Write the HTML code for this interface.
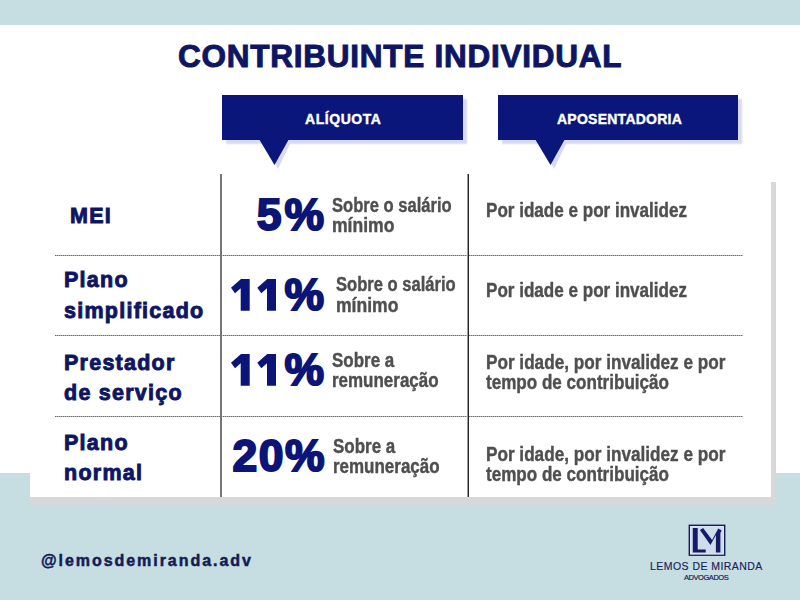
<!DOCTYPE html>
<html><head><meta charset="utf-8">
<style>
html,body{margin:0;padding:0;}
body{width:800px;height:600px;overflow:hidden;position:relative;background:#c6dde2;font-family:"Liberation Sans",sans-serif;}
.a{position:absolute;white-space:nowrap;line-height:1;}
#band{position:absolute;left:0;top:25px;width:800px;height:448px;background:#fff;}
#shR{position:absolute;left:771px;top:182px;width:5px;height:322px;background:#d8d8d8;filter:blur(0.4px);}
#shB{position:absolute;left:30px;top:497px;width:746px;height:10px;background:linear-gradient(#d8d8d8 0,#d8d8d8 50%,rgba(216,216,216,0) 100%);filter:blur(0.5px);}
#card{position:absolute;left:30px;top:182px;width:741px;height:315px;background:#fff;}
.title{font-weight:bold;color:#0e1664;font-size:31.5px;letter-spacing:0.75px;-webkit-text-stroke:1px #0e1664;}
.box{position:absolute;top:95px;height:45px;background:#0a1679;box-shadow:4px 4px 1.5px #d8dbef;}
.tri{position:absolute;top:139px;width:0;height:0;}
.bt{font-weight:bold;color:#fff;font-size:14px;letter-spacing:0.25px;-webkit-text-stroke:0.4px #fff;}
.bt1{letter-spacing:0.55px;}
.vl{position:absolute;top:174px;height:323px;width:2px;}
.hl{position:absolute;left:55px;width:688px;height:1px;background:repeating-linear-gradient(90deg,#6e6e6e 0 1px,#b4b4b4 1px 2px);}
.lab{font-weight:bold;color:#0e1664;font-size:21.5px;letter-spacing:1.25px;-webkit-text-stroke:0.9px #0e1664;}
.pct{font-weight:bold;color:#0c1577;font-size:44.5px;text-align:right;right:474px;letter-spacing:1px;-webkit-text-stroke:2px #0c1577;}
.g{font-weight:bold;color:#4f4f4f;font-size:19.5px;line-height:20px;transform-origin:0 0;-webkit-text-stroke:0.4px #4f4f4f;}
.h{font-weight:bold;color:#141b55;font-size:16px;-webkit-text-stroke:0.5px #141b55;}
</style></head><body>
<div id="band"></div>
<div id="shR"></div><div id="shB"></div><div id="card"></div>

<div class="a title" style="left:178px;top:40.5px;">CONTRIBUINTE INDIVIDUAL</div>

<div class="box" style="left:222px;width:241px;"></div>
<svg class="a" style="left:255px;top:135px;" width="40" height="35" viewBox="0 0 40 35">
<polygon points="8,5 37,5 23,34" fill="#d8dbef"/>
<polygon points="4,4 34,4 19.5,30" fill="#0a1679"/>
</svg>
<div class="box" style="left:498px;width:240px;"></div>
<svg class="a" style="left:531px;top:135px;" width="40" height="35" viewBox="0 0 40 35">
<polygon points="8,5 37,5 23,34" fill="#d8dbef"/>
<polygon points="4,4 34,4 19.5,30" fill="#0a1679"/>
</svg>
<div class="a bt bt1" style="left:305px;top:111.5px;">ALÍQUOTA</div>
<div class="a bt" style="left:557px;top:111.5px;">APOSENTADORIA</div>

<div class="hl" style="top:255px;"></div>
<div class="hl" style="top:335px;"></div>
<div class="hl" style="top:416px;"></div>
<div class="vl" style="left:220px;background:#767676;"></div>
<div class="vl" style="left:467px;background:linear-gradient(90deg,#9a9a9a 50%,#262626 50%);"></div>

<div class="a lab" style="left:70px;top:205.5px;">MEI</div>
<div class="a lab" style="left:64px;top:265px;line-height:30.5px;">Plano<br>simplificado</div>
<div class="a lab" style="left:64px;top:347.5px;line-height:30.5px;">Prestador<br>de serviço</div>
<div class="a lab" style="left:64px;top:427.5px;line-height:30.5px;">Plano<br>normal</div>

<div class="a pct" style="top:193px;right:473px;letter-spacing:3px;">5%</div>
<svg class="a" style="left:231px;top:279px;" width="50" height="33" viewBox="0 0 50 33"><polygon points="10,0 18.7,0 18.7,31.7 9.7,31.7 9.7,9.3 4,14.3 0,8.7" fill="#0c1577"/><polygon points="36.3,0 45.0,0 45.0,31.7 36.0,31.7 36.0,9.3 30.3,14.3 26.3,8.7" fill="#0c1577"/></svg>
<div class="a pct" style="top:273px;right:475px;">%</div>
<svg class="a" style="left:231px;top:354px;" width="50" height="33" viewBox="0 0 50 33"><polygon points="10,0 18.7,0 18.7,31.7 9.7,31.7 9.7,9.3 4,14.3 0,8.7" fill="#0c1577"/><polygon points="36.3,0 45.0,0 45.0,31.7 36.0,31.7 36.0,9.3 30.3,14.3 26.3,8.7" fill="#0c1577"/></svg>
<div class="a pct" style="top:348px;right:475px;">%</div>
<div class="a pct" style="top:433.5px;right:474px;letter-spacing:1.5px;">20%</div>

<div class="a g" style="left:332px;top:195px;transform:scaleX(0.85);">Sobre o salário</div>
<div class="a g" style="left:332px;top:214.5px;transform:scaleX(0.9);">mínimo</div>
<div class="a g" style="left:336px;top:274px;transform:scaleX(0.85);">Sobre o salário</div>
<div class="a g" style="left:336px;top:294.5px;transform:scaleX(0.9);">mínimo</div>
<div class="a g" style="left:332px;top:350px;transform:scaleX(0.87);">Sobre a</div>
<div class="a g" style="left:332px;top:369.5px;transform:scaleX(0.87);">remuneração</div>
<div class="a g" style="left:333px;top:436px;transform:scaleX(0.87);">Sobre a</div>
<div class="a g" style="left:333px;top:455.5px;transform:scaleX(0.87);">remuneração</div>

<div class="a g" style="left:486px;top:199.5px;transform:scaleX(0.875);">Por idade e por invalidez</div>
<div class="a g" style="left:486px;top:279.5px;transform:scaleX(0.875);">Por idade e por invalidez</div>
<div class="a g" style="left:486px;top:351.5px;transform:scaleX(0.88);">Por idade, por invalidez e por</div>
<div class="a g" style="left:486px;top:371.5px;transform:scaleX(0.875);">tempo de contribuição</div>
<div class="a g" style="left:486px;top:443.5px;transform:scaleX(0.88);">Por idade, por invalidez e por</div>
<div class="a g" style="left:486px;top:463.5px;transform:scaleX(0.875);">tempo de contribuição</div>

<div class="a h" style="left:41px;top:553px;letter-spacing:1.95px;">@lemosdemiranda.adv</div>

<svg class="a" style="left:688px;top:524px;" width="39" height="33" viewBox="0 0 39 33">
<rect x="1.35" y="1.35" width="35.3" height="29.8" fill="#cfdce9" stroke="#141c55" stroke-width="1.5"/>
<rect x="2.6" y="2.6" width="32.8" height="27.3" fill="none" stroke="#e3e8f8" stroke-width="1"/>
<polygon points="4.8,4 9.7,4 9.7,25.5 17.7,25.5 17.7,28.5 4.8,28.5" fill="#141c6a"/>
<polygon points="11.9,6.1 15.1,4.0 24.1,16.0 30.3,4.5 33.7,6.4 32.4,9 32.4,28.5 27.9,28.5 27.9,11.1 22.5,21.1" fill="#141c6a"/>
</svg>
<div class="a" style="left:650px;top:560.5px;font-size:10.5px;color:#1b2258;letter-spacing:0.45px;-webkit-text-stroke:0.15px #1b2258;">LEMOS DE MIRANDA</div>
<div class="a" style="left:684px;top:574px;font-size:7.5px;color:#1b2258;letter-spacing:-0.45px;-webkit-text-stroke:0.2px #1b2258;">ADVOGADOS</div>
</body></html>
